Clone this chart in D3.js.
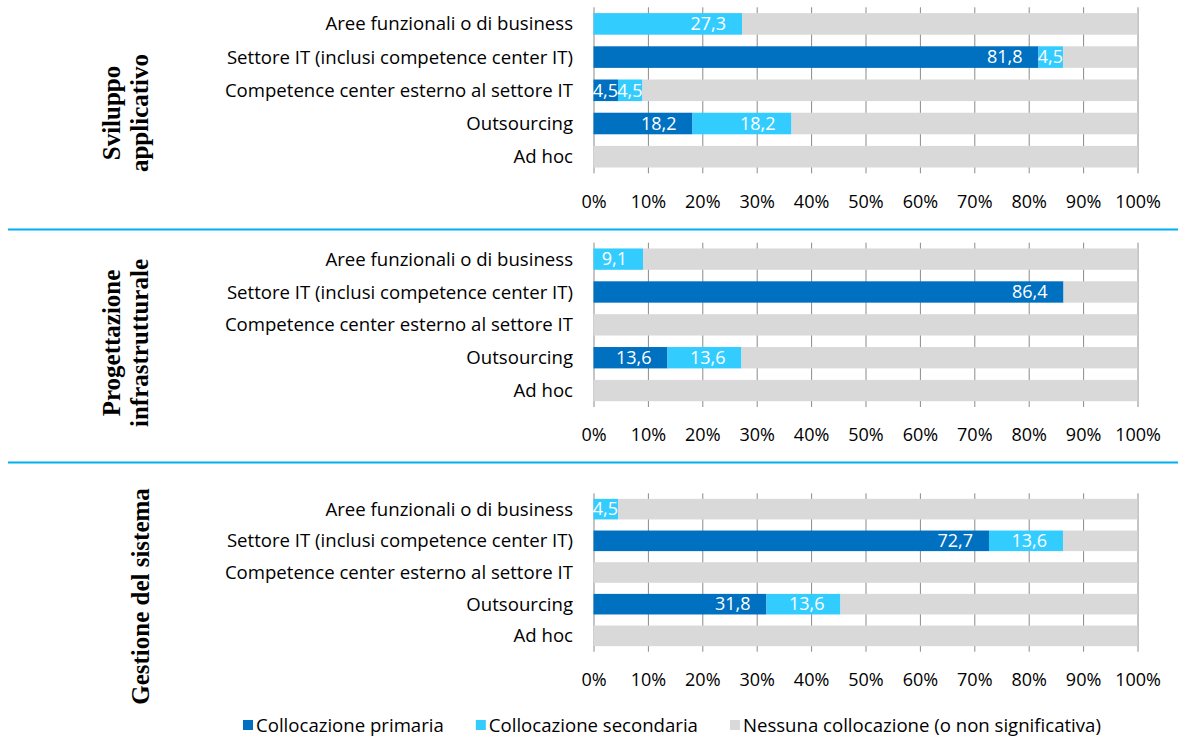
<!DOCTYPE html>
<html>
<head>
<meta charset="utf-8">
<script src="https://cdn.jsdelivr.net/npm/d3@7"></script>
<style>
  html, body { margin: 0; padding: 0; background: #fff; }
  svg { display: block; }
</style>
</head>
<body>
<svg id="chart" width="1178" height="738"></svg>
<script>
// ---------------- DATA ----------------
const categories = [
  "Aree funzionali o di business",
  "Settore IT (inclusi competence center IT)",
  "Competence center esterno al settore IT",
  "Outsourcing",
  "Ad hoc"
];
const seriesNames = [
  "Collocazione primaria",
  "Collocazione secondaria",
  "Nessuna collocazione (o non significativa)"
];
const panelTitles = [
  ["Sviluppo", "applicativo"],
  ["Progettazione", "infrastrutturale"],
  ["Gestione del sistema"]
];
const tickValues = [0, 10, 20, 30, 40, 50, 60, 70, 80, 90, 100];

const sviluppoPrimary   = [0, 81.8, 4.5, 18.2, 0];
const sviluppoSecondary = [27.3, 4.5, 4.5, 18.2, 0];
const sviluppoNone      = [72.7, 13.7, 91.0, 63.6, 100];

const progettazionePrimary   = [0, 86.4, 0, 13.6, 0];
const progettazioneSecondary = [9.1, 0, 0, 13.6, 0];
const progettazioneNone      = [90.9, 13.6, 100, 72.8, 100];

const gestionePrimary   = [0, 72.7, 0, 31.8, 0];
const gestioneSecondary = [4.5, 13.6, 0, 13.6, 0];
const gestioneNone      = [95.5, 13.7, 100, 54.6, 100];

// ---------------- STYLE / LAYOUT ----------------
const colors = ["#0070C0", "#33CCFF", "#D9D9D9"];
const sansFont = "'Open Sans', 'Noto Sans', sans-serif";
const serifFont = "'Liberation Serif', 'DejaVu Serif', serif";
const textSize = 18;
const labelSize = 18.6;

const panels = [
  { title: panelTitles[0], series: [sviluppoPrimary, sviluppoSecondary, sviluppoNone],
    band: [7.3, 173.3], titleY: 113, titleBase: [120, 148] },
  { title: panelTitles[1], series: [progettazionePrimary, progettazioneSecondary, progettazioneNone],
    band: [242.7, 407], titleY: 343, titleBase: [120, 148] },
  { title: panelTitles[2], series: [gestionePrimary, gestioneSecondary, gestioneNone],
    band: [493.3, 651.7], titleY: 596.5, titleBase: [149] }
];
const separatorsY = [229.5, 462.5];

const svg = d3.select("#chart");
const x = d3.scaleLinear().domain([0, 100]).range([593.5, 1137.5]);

// separators
svg.selectAll("line.sep").data(separatorsY).join("line")
  .attr("class", "sep")
  .attr("x1", 8).attr("x2", 1178)
  .attr("y1", d => d).attr("y2", d => d)
  .attr("stroke", "#00B0F0").attr("stroke-width", 2);

panels.forEach(p => {
  const g = svg.append("g");
  const y = d3.scaleBand().domain(categories).range(p.band)
    .paddingInner(0.35).paddingOuter(0.175);

  // gridlines + tick labels
  const axis = d3.axisBottom(x)
    .tickValues(tickValues)
    .tickFormat(d => d + "%")
    .tickSizeInner(-(p.band[1] - p.band[0]))
    .tickSizeOuter(0)
    .tickPadding(21.6);
  const ag = g.append("g").attr("transform", `translate(0,${p.band[1]})`).call(axis);
  ag.select(".domain").remove();
  ag.selectAll(".tick line").attr("stroke", "#8a8a8a").attr("stroke-width", 1);
  ag.selectAll(".tick text")
    .attr("font-family", sansFont).attr("font-size", textSize).attr("fill", "#000");

  // stacked bars
  const rows = categories.map((c, i) => ({ cat: c, vals: p.series.map(s => s[i]) }));
  const segs = [];
  rows.forEach(r => {
    let acc = 0;
    r.vals.forEach((v, k) => {
      segs.push({ cat: r.cat, k, v, x0: acc, x1: acc + v });
      acc += v;
    });
  });
  g.selectAll("rect.seg").data(segs.filter(s => s.v > 0)).join("rect")
    .attr("class", "seg")
    .attr("x", d => x(d.x0))
    .attr("width", d => x(d.x1) - x(d.x0))
    .attr("y", d => y(d.cat))
    .attr("height", y.bandwidth())
    .attr("fill", d => colors[d.k]);

  // value labels (primary & secondary only)
  const lab = g.selectAll("text.val").data(segs.filter(s => s.v > 0 && s.k < 2)).join("text")
    .attr("class", "val")
    .attr("font-family", sansFont).attr("font-size", textSize)
    .attr("fill", "#fff")
    .attr("text-anchor", "end")
    .attr("dy", "0.35em")
    .attr("y", d => y(d.cat) + y.bandwidth() / 2)
    .text(d => d3.format(".1f")(d.v).replace(".", ","));
  lab.attr("x", function(d) {
    const w = this.getComputedTextLength();
    const a = x(d.x0), b = x(d.x1);
    return Math.min(b, Math.max(b - 16, a + w));
  });

  // category labels
  g.selectAll("text.cat").data(categories).join("text")
    .attr("class", "cat")
    .attr("x", 573)
    .attr("y", d => y(d) + y.bandwidth() / 2)
    .attr("dy", "0.35em")
    .attr("text-anchor", "end")
    .attr("font-family", sansFont).attr("font-size", labelSize)
    .attr("fill", "#000")
    .text(d => d);

  // rotated panel title
  const t = svg.append("g").attr("transform", `translate(0,${p.titleY}) rotate(-90)`);
  p.title.forEach((line, i) => {
    t.append("text")
      .attr("x", 0).attr("y", p.titleBase[i])
      .attr("text-anchor", "middle")
      .attr("font-family", serifFont).attr("font-weight", "bold")
      .attr("font-size", 25).attr("fill", "#000")
      .text(line);
  });
});

// legend
const leg = svg.append("g").attr("transform", "translate(0,725)");
let lx = 243;
seriesNames.forEach((name, i) => {
  leg.append("rect").attr("x", lx).attr("y", -5).attr("width", 10).attr("height", 10).attr("fill", colors[i]);
  const tx = leg.append("text").attr("x", lx + 13).attr("y", 0).attr("dy", "0.35em")
    .attr("font-family", sansFont).attr("font-size", labelSize).attr("fill", "#000")
    .text(name);
  lx = lx + 13 + tx.node().getComputedTextLength() + 32;
});
</script>
</body>
</html>
